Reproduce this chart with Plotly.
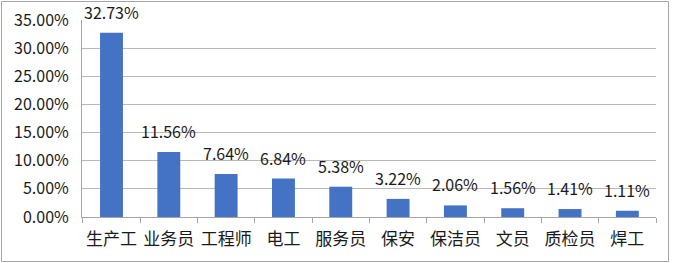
import plotly.graph_objects as go

categories = ["生产工", "业务员", "工程师", "电工", "服务员", "保安", "保洁员", "文员", "质检员", "焊工"]
values = [32.73, 11.56, 7.64, 6.84, 5.38, 3.22, 2.06, 1.56, 1.41, 1.11]
tick_vals = [0, 5, 10, 15, 20, 25, 30, 35]
tick_text = [f"{v:.2f}%" for v in tick_vals]

W, H = 675, 263
ml, mr, mt, mb = 82, 19, 20, 46

fig = go.Figure(go.Bar(
    x=categories, y=values,
    marker=dict(color="#4472C4", line=dict(width=0)),
    cliponaxis=False,
))

for c, v in zip(categories, values):
    fig.add_annotation(x=c, y=v, text=f"{v:.2f}%", showarrow=False,
                       yanchor="bottom", yshift=7,
                       font=dict(size=16, color="#1a1a1a"))

fig.update_layout(
    width=W, height=H,
    margin=dict(l=ml, r=mr, t=mt, b=mb),
    paper_bgcolor="white", plot_bgcolor="white",
    font=dict(family="Noto Sans CJK SC, sans-serif", size=15, color="#1a1a1a"),
    bargap=0.6,
    showlegend=False,
    xaxis=dict(
        showline=True, linecolor="#a6a6a6", linewidth=1,
        ticks="outside", tickson="boundaries", ticklen=5, tickcolor="#a6a6a6",
        tickfont=dict(size=17), showgrid=False, ticklabelstandoff=7,
        tickangle=0, automargin=False,
    ),
    yaxis=dict(
        range=[0, 35], tickvals=tick_vals, ticktext=tick_text,
        showgrid=True, gridcolor="#b8b8b8", gridwidth=1,
        showline=True, linecolor="#a6a6a6", linewidth=1,
        ticks="", tickfont=dict(size=16), zeroline=False, ticklabelstandoff=9,
        automargin=False,
    ),
)

pw = W - ml - mr
ph = H - mt - mb
x0 = (1.5 - ml) / pw
x1 = (668.5 - ml) / pw
y0 = 1 - (261.5 - mt) / ph
y1 = 1 - (1.5 - mt) / ph
fig.add_shape(type="rect", xref="paper", yref="paper", x0=x0, x1=x1, y0=y0, y1=y1,
              line=dict(color="#a6a6a6", width=1), layer="below")

fig.write_html("out.html")
